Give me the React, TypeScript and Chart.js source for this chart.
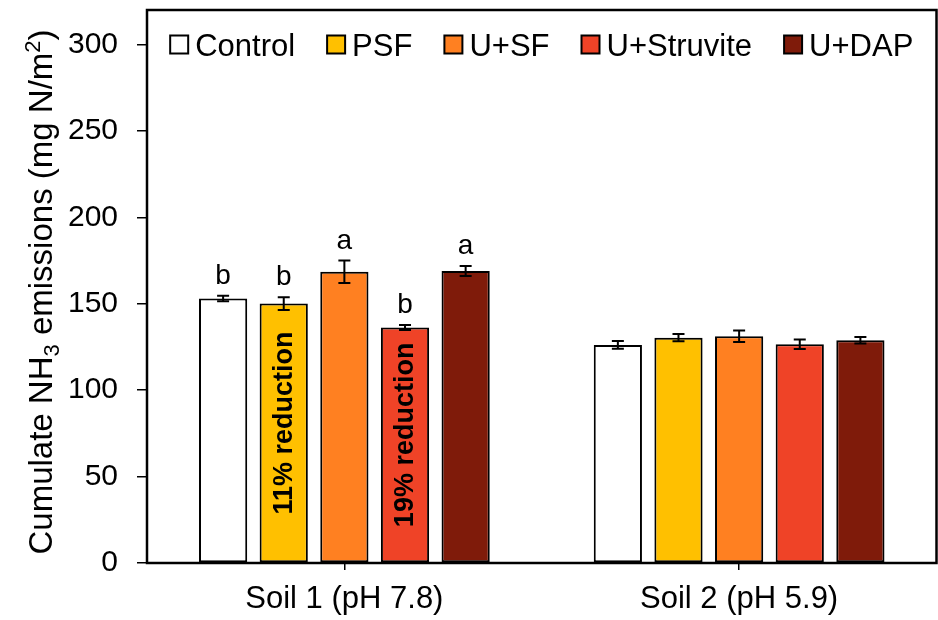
import React, { useEffect, useRef } from "react";
import { Chart, registerables } from "chart.js";

Chart.register(...registerables);

// Soil groups on the x axis
const categories = ["Soil 1 (pH 7.8)", "Soil 2 (pH 5.9)"];

// Treatments (one bar series each)
const treatments = ["Control", "PSF", "U+SF", "U+Struvite", "U+DAP"];

// Cumulative NH3 emissions, mg N/m2 (Soil 1, Soil 2)
const controlValues = [153.0, 126.2];
const psfValues = [150.1, 130.4];
const usfValues = [168.5, 131.2];
const struviteValues = [136.3, 126.6];
const dapValues = [169.0, 128.9];

// Standard errors (Soil 1, Soil 2)
const controlErrors = [1.6, 2.2];
const psfErrors = [3.7, 2.1];
const usfErrors = [6.5, 3.3];
const struviteErrors = [1.4, 2.7];
const dapErrors = [2.9, 1.9];

// Significance letters for Soil 1, one per treatment
const soil1Letters = ["b", "b", "a", "b", "a"];

// Reduction notes written inside Soil 1 bars: [treatment index, text]
const reductionNotes: [number, string][] = [
  [1, "11% reduction"],
  [3, "19% reduction"],
];

// Y axis range and tick labels
const yMin = 0;
const yMax = 320;
const yTickValues = [0, 50, 100, 150, 200, 250, 300];

const seriesValues = [controlValues, psfValues, usfValues, struviteValues, dapValues];
const seriesErrors = [controlErrors, psfErrors, usfErrors, struviteErrors, dapErrors];
const seriesColors = ["#FFFFFF", "#FFC000", "#FF8021", "#EF4327", "#7F1B0A"];

const FONT = '"Liberation Sans", Arial, Helvetica, sans-serif';

// Black frame around the plot area
const framePlugin = {
  id: "plotFrame",
  afterDraw(chart: any) {
    const { ctx, chartArea } = chart;
    ctx.save();
    ctx.strokeStyle = "#000";
    ctx.lineWidth = 2.5;
    ctx.strokeRect(chartArea.left, chartArea.top, chartArea.right - chartArea.left, chartArea.bottom - chartArea.top);
    ctx.restore();
  },
};

// Error bars, significance letters and in-bar notes
const annotationPlugin = {
  id: "barAnnotations",
  afterDatasetsDraw(chart: any) {
    const { ctx } = chart;
    const yScale = chart.scales.y;
    ctx.save();
    chart.data.datasets.forEach((ds: any, di: number) => {
      const meta = chart.getDatasetMeta(di);
      meta.data.forEach((bar: any, ci: number) => {
        const v = seriesValues[di][ci];
        const e = seriesErrors[di][ci];
        const yTop = yScale.getPixelForValue(v + e);
        const yBot = yScale.getPixelForValue(v - e);
        const x = bar.x;
        ctx.strokeStyle = "#000";
        ctx.lineWidth = 2;
        ctx.beginPath();
        ctx.moveTo(x, yTop);
        ctx.lineTo(x, yBot);
        ctx.moveTo(x - 6, yTop);
        ctx.lineTo(x + 6, yTop);
        ctx.moveTo(x - 6, yBot);
        ctx.lineTo(x + 6, yBot);
        ctx.stroke();

        if (ci === 0) {
          ctx.fillStyle = "#000";
          ctx.font = `28px ${FONT}`;
          ctx.textAlign = "center";
          ctx.textBaseline = "alphabetic";
          ctx.fillText(soil1Letters[di], x, yTop - 12);
        }
      });
    });

    reductionNotes.forEach(([di, text]) => {
      const bar = chart.getDatasetMeta(di).data[0];
      const midY = (bar.y + bar.base) / 2 - 10;
      ctx.save();
      ctx.translate(bar.x, midY);
      ctx.rotate(-Math.PI / 2);
      ctx.fillStyle = "#000";
      ctx.font = `bold 27px ${FONT}`;
      ctx.textAlign = "center";
      ctx.textBaseline = "middle";
      ctx.fillText(text, 0, 1);
      ctx.restore();
    });
    ctx.restore();
  },
};

// Legend row across the top of the plot
const legendPlugin = {
  id: "topLegend",
  afterDraw(chart: any) {
    const { ctx, chartArea } = chart;
    ctx.save();
    ctx.font = `31px ${FONT}`;
    const box = 18;
    const gapText = 7;
    const gapItem = 32;
    const widths = treatments.map((t) => ctx.measureText(t).width);
    const total =
      widths.reduce((a, w) => a + box + gapText + w, 0) + gapItem * (treatments.length - 1);
    let x = (chartArea.left + chartArea.right) / 2 - total / 2;
    const cy = 44.5;
    treatments.forEach((t, i) => {
      ctx.fillStyle = seriesColors[i];
      ctx.fillRect(x, cy - box / 2, box, box);
      ctx.strokeStyle = "#000";
      ctx.lineWidth = 2;
      ctx.strokeRect(x, cy - box / 2, box, box);
      ctx.fillStyle = "#000";
      ctx.textAlign = "left";
      ctx.textBaseline = "alphabetic";
      ctx.fillText(t, x + box + gapText, cy + 11);
      x += box + gapText + widths[i] + gapItem;
    });
    ctx.restore();
  },
};

// Vertical y-axis title with NH3 subscript and m2 superscript
const yTitlePlugin = {
  id: "yTitle",
  afterDraw(chart: any) {
    const { ctx } = chart;
    const big = 33;
    const small = 22;
    const parts: { t: string; size: number; dy: number }[] = [
      { t: "Cumulate NH", size: big, dy: 0 },
      { t: "3", size: small, dy: 7 },
      { t: " emissions (mg N/m", size: big, dy: 0 },
      { t: "2", size: small, dy: -12 },
      { t: ")", size: big, dy: 0 },
    ];
    ctx.save();
    const widths = parts.map((p) => {
      ctx.font = `${p.size}px ${FONT}`;
      return ctx.measureText(p.t).width;
    });
    const total = widths.reduce((a, b) => a + b, 0);
    ctx.translate(52, 292);
    ctx.rotate(-Math.PI / 2);
    ctx.fillStyle = "#000";
    ctx.textAlign = "left";
    ctx.textBaseline = "alphabetic";
    let x = -total / 2;
    parts.forEach((p, i) => {
      ctx.font = `${p.size}px ${FONT}`;
      ctx.fillText(p.t, x, p.dy);
      x += widths[i];
    });
    ctx.restore();
  },
};

export default function App() {
  const canvasRef = useRef<HTMLCanvasElement | null>(null);

  useEffect(() => {
    if (!canvasRef.current) return;
    const chart = new Chart(canvasRef.current, {
      type: "bar",
      data: {
        labels: categories,
        datasets: treatments.map((t, i) => ({
          label: t,
          data: seriesValues[i],
          backgroundColor: seriesColors[i],
          borderColor: "#000",
          borderWidth: 2,
          borderSkipped: false,
          categoryPercentage: 0.768,
          barPercentage: 0.795,
        })),
      },
      options: {
        responsive: false,
        animation: false,
        devicePixelRatio: 1,
        layout: { padding: { top: 10, right: 1.5, left: 0, bottom: 0 } },
        plugins: {
          legend: { display: false },
          tooltip: { enabled: false },
        },
        scales: {
          x: {
            afterFit(scale: any) {
              scale.height = 57;
              scale.paddingLeft = 0;
              scale.paddingRight = 0;
            },
            border: { display: false },
            grid: {
              offset: false,
              drawOnChartArea: false,
              drawTicks: true,
              tickLength: 7,
              color: "#000",
              lineWidth: 1.5,
            },
            ticks: {
              color: "#000",
              font: { family: FONT, size: 31 },
              padding: 11,
            },
          },
          y: {
            min: yMin,
            max: yMax,
            afterFit(scale: any) {
              scale.width = 147;
              scale.paddingTop = 0;
              scale.paddingBottom = 0;
            },
            afterBuildTicks(scale: any) {
              scale.ticks = yTickValues.map((v) => ({ value: v }));
            },
            border: { display: false },
            grid: {
              drawOnChartArea: false,
              drawTicks: true,
              tickLength: 10,
              color: "#000",
              lineWidth: 1.5,
            },
            ticks: {
              color: "#000",
              font: { family: FONT, size: 30 },
              padding: 19,
            },
          },
        },
      },
      plugins: [annotationPlugin, framePlugin, legendPlugin, yTitlePlugin],
    });
    return () => chart.destroy();
  }, []);

  return (
    <div style={{ position: "absolute", left: 0, top: 0, width: 938, height: 620, background: "#fff" }}>
      <canvas ref={canvasRef} width={938} height={620} />
    </div>
  );
}
